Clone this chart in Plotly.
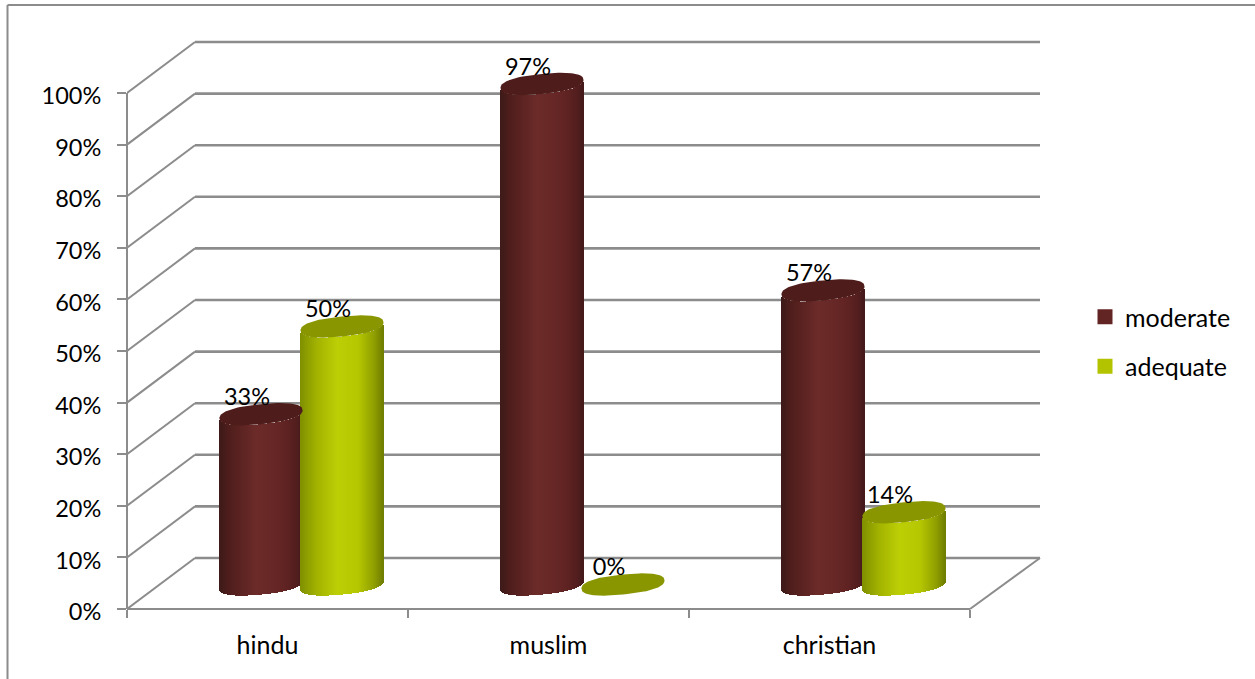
import math
import plotly.graph_objects as go

# ---- data ----
categories = ["hindu", "muslim", "christian"]
moderate = [33, 97, 57]
adequate = [50, 0, 14]
y_ticks = [0, 10, 20, 30, 40, 50, 60, 70, 80, 90, 100]

# ---- styling / projection ----
FONT = "Lato"
GRID = "#8c8c8c"
PX_PER_CAT = 281.0
PX_PER_PCT = 5.16
L, R, T, B = 127, 1046, 35, 609
XMAX = (R - L) / PX_PER_CAT
YMAX = (B - T) / PX_PER_PCT
DEPTH_X = 68 / PX_PER_CAT
DEPTH_Y = 51 / PX_PER_PCT

BAR_GAP = 81 / PX_PER_CAT
HALF_W = 41.5
ELL_B = 10
ELL_S = 4
ELL_N = 2.4
HALF_DEPTH_X = 34 / PX_PER_CAT
HALF_DEPTH_Y = 24.5 / PX_PER_PCT


def hexrgb(h):
    return tuple(int(h[i:i + 2], 16) for i in (1, 3, 5))


def ramp(stops, u):
    for (u0, c0), (u1, c1) in zip(stops, stops[1:]):
        if u <= u1:
            f = (u - u0) / (u1 - u0)
            a, b = hexrgb(c0), hexrgb(c1)
            return "rgb(%d,%d,%d)" % tuple(round(a[i] + (b[i] - a[i]) * f) for i in range(3))
    return stops[-1][1]


def spow(c):
    return math.copysign(abs(c) ** (2 / ELL_N), c)


series = [
    dict(name="moderate", values=moderate, legend="#632523", top="#4e1c1a",
         stops=[(-1, "#3c1a18"), (-0.75, "#4f1e1c"), (-0.1, "#6c2b29"), (0.5, "#632524"), (0.85, "#541e1e"), (1, "#44191a")]),
    dict(name="adequate", values=adequate, legend="#b3c300", top="#8a9600",
         stops=[(-1, "#7f8f00"), (-0.6, "#a2b200"), (-0.1, "#bccf05"), (0.4, "#b5c700"), (0.8, "#8e9d00"), (1, "#6f7d00")]),
]

fig = go.Figure()
tops = []
labels = []
for s_idx, s in enumerate(series):
    for c_idx, v in enumerate(s["values"]):
        cx = c_idx + 0.5 + (s_idx - 0.5) * BAR_GAP + HALF_DEPTH_X
        y0 = HALF_DEPTH_Y
        xs, bases, heights, colors = [], [], [], []
        n = int(2 * HALF_W)
        for k in range(n):
            u = (k + 0.5) / n * 2 - 1
            arc = max(0, 1 - abs(u) ** ELL_N) ** (1 / ELL_N) * ELL_B
            slant = ELL_S * u
            xs.append(cx + u * HALF_W / PX_PER_CAT)
            bases.append(y0 + (slant - arc) / PX_PER_PCT)
            heights.append(v)
            colors.append(ramp(s["stops"], u))
        if v > 0:
            fig.add_trace(go.Bar(x=xs, y=heights, base=bases, width=1.5 / PX_PER_CAT,
                                 marker=dict(color=colors, line=dict(width=0)),
                                 showlegend=False, hoverinfo="skip"))
        ex, ey = [], []
        for k in range(97):
            t = 2 * math.pi * k / 96
            cu, su = spow(math.cos(t)), spow(math.sin(t))
            ex.append(cx + cu * HALF_W / PX_PER_CAT)
            ey.append(y0 + v + (ELL_S * cu + ELL_B * su) / PX_PER_PCT)
        tops.append(go.Scatter(x=ex, y=ey, mode="lines", fill="toself", fillcolor=s["top"],
                               line=dict(width=0, color=s["top"]), showlegend=False, hoverinfo="skip"))
        labels.append((cx - 14 / PX_PER_CAT, y0 + v + 15 / PX_PER_PCT, f"{v}%"))

for tr in tops:
    fig.add_trace(tr)

fig.add_trace(go.Scatter(x=[l[0] for l in labels], y=[l[1] for l in labels], text=[l[2] for l in labels],
                         mode="text", textposition="middle center",
                         textfont=dict(family=FONT, size=23.5, color="#000000"),
                         showlegend=False, hoverinfo="skip"))

for s_idx, s in enumerate(series):
    fig.add_trace(go.Scatter(x=[None], y=[None], mode="markers", name=s["name"], legendgroup=s["name"],
                             marker=dict(symbol="square", size=15, color=s["legend"], line=dict(width=0))))

shapes = []
line = dict(color=GRID, width=2)
wide = dict(color=GRID, width=2.6)
back_right = (1040 - L) / PX_PER_CAT
for v in y_ticks:
    shapes.append(dict(type="line", xref="x", yref="y", x0=0, x1=DEPTH_X, y0=v, y1=v + DEPTH_Y, line=line, layer="below"))
    shapes.append(dict(type="line", xref="x", yref="y", x0=DEPTH_X, x1=back_right, y0=v + DEPTH_Y, y1=v + DEPTH_Y, line=wide, layer="below"))
# floor and axis lines (paper refs so that they are not clipped at the plot edge)
px = lambda xv: xv / XMAX
py = lambda yv: yv / YMAX
n_cat = len(categories)
shapes.append(dict(type="line", xref="paper", yref="paper", x0=px(0), x1=px(n_cat), y0=py(0), y1=py(0), line=line, layer="below"))
shapes.append(dict(type="line", xref="paper", yref="paper", x0=px(n_cat), x1=px(back_right), y0=py(0), y1=py(DEPTH_Y), line=line, layer="below"))
shapes.append(dict(type="line", xref="paper", yref="paper", x0=px(0), x1=px(0), y0=py(0), y1=py(100), line=line, layer="below"))
# outer chart-area border
W, H = 1255, 679
bx = lambda p: (p - L) / (R - L)
by = lambda p: (B - p) / (B - T)
shapes.append(dict(type="line", xref="paper", yref="paper", x0=bx(7.5), x1=bx(7.5), y0=by(5), y1=by(H), line=line, layer="below"))
shapes.append(dict(type="line", xref="paper", yref="paper", x0=bx(7.5), x1=bx(W), y0=by(5), y1=by(5), line=line, layer="below"))

fig.update_layout(
    width=W, height=H, autosize=False,
    margin=dict(l=L, r=W - R, t=T, b=H - B, pad=0),
    paper_bgcolor="white", plot_bgcolor="rgba(0,0,0,0)",
    barmode="overlay", bargap=0,
    shapes=shapes,
    font=dict(family=FONT, size=25, color="#000000"),
    xaxis=dict(range=[0, XMAX], showgrid=False, zeroline=False, showline=False,
               tickmode="array", tickvals=[i + 0.5 for i in range(n_cat)], ticktext=categories,
               ticks="", ticklabelstandoff=19,
               minor=dict(tickmode="array", tickvals=list(range(n_cat + 1)), ticks="outside", ticklen=8, tickwidth=2, tickcolor=GRID, showgrid=False),
               tickfont=dict(family=FONT, size=25, color="#000000")),
    yaxis=dict(range=[0, YMAX], showgrid=False, zeroline=False, showline=False,
               tickmode="array", tickvals=y_ticks, ticktext=[f"{v}%" for v in y_ticks],
               ticks="outside", ticklen=9, tickwidth=2, tickcolor=GRID, ticklabelstandoff=11, ticklabelshift=3,
               tickfont=dict(family=FONT, size=23.5, color="#000000")),
    legend=dict(x=bx(1085), y=by(294), xanchor="left", yanchor="top", tracegroupgap=14,
                bgcolor="rgba(0,0,0,0)", borderwidth=0, itemclick=False, itemdoubleclick=False,
                font=dict(family=FONT, size=25, color="#000000")),
)

fig.write_html("out.html", config=dict(displayModeBar=False),
               post_script="document.body.style.margin='0';document.documentElement.style.overflow='hidden';")
